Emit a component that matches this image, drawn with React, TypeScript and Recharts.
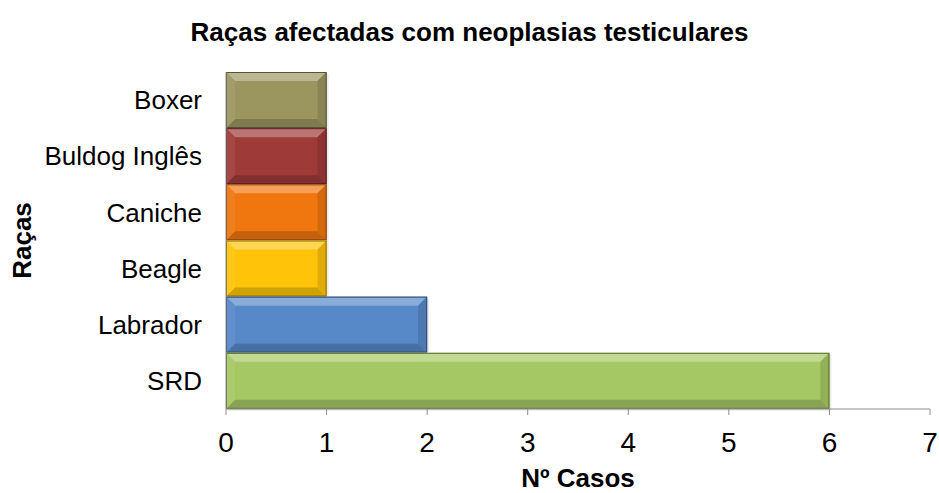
import React from 'react';
import { BarChart, Bar, XAxis, YAxis, Cell, Label } from 'recharts';

const breeds = ['Boxer', 'Buldog Inglês', 'Caniche', 'Beagle', 'Labrador', 'SRD'];
const cases = [1, 1, 1, 1, 2, 6];
const barColors = ['#9B9660', '#9E3B39', '#F0760F', '#FFC40A', '#5788C8', '#A6C864'];
const xTicks = [0, 1, 2, 3, 4, 5, 6, 7];

const title = 'Raças afectadas com neoplasias testiculares';
const xTitle = 'Nº Casos';
const yTitle = 'Raças';

const data = breeds.map((b, i) => ({ breed: b, value: cases[i], color: barColors[i] }));

const FONT = '"Liberation Sans", Arial, sans-serif';

function mix(hex: string, target: number, amt: number) {
  const n = parseInt(hex.slice(1), 16);
  const r = (n >> 16) & 255, g = (n >> 8) & 255, b = n & 255;
  const f = (c: number) => Math.round(c + (target - c) * amt);
  return `rgb(${f(r)},${f(g)},${f(b)})`;
}

const BevelBar = (props: any) => {
  const { x, y, width, height, payload } = props;
  const fill = payload.color;
  if (!width || !height) return null;
  const w = width, h = height;
  const b = Math.min(9, w / 2, h / 2);
  return (
    <g>
      <rect x={x + 2} y={y + 2} width={w} height={h} fill="rgba(0,0,0,0.08)" />
      <rect x={x} y={y} width={w} height={h} fill={fill} />
      <polygon points={`${x},${y} ${x + w},${y} ${x + w - b},${y + b} ${x + b},${y + b}`} fill={mix(fill, 255, 0.3)} />
      <polygon points={`${x},${y + h} ${x + w},${y + h} ${x + w - b},${y + h - b} ${x + b},${y + h - b}`} fill={mix(fill, 0, 0.18)} />
      <polygon points={`${x},${y} ${x + b},${y + b} ${x + b},${y + h - b} ${x},${y + h}`} fill={mix(fill, 255, 0.06)} />
      <polygon points={`${x + w},${y} ${x + w - b},${y + b} ${x + w - b},${y + h - b} ${x + w},${y + h}`} fill={mix(fill, 0, 0.12)} />
      <rect x={x + 0.5} y={y + 0.5} width={w - 1} height={h - 1} fill="none" stroke={mix(fill, 0, 0.45)} strokeWidth={1} />
    </g>
  );
};

export default function App() {
  return (
    <div style={{ position: 'absolute', left: 0, top: 0, width: 939, height: 493, background: '#fff' }}>
      <BarChart
        width={939}
        height={493}
        data={data}
        layout="vertical"
        margin={{ top: 72, right: 9, bottom: 0, left: 0 }}
        barCategoryGap={0}
      >
        <text x={469.5} y={41} textAnchor="middle" fontFamily={FONT} fontWeight="bold" fontSize={26} fill="#000">
          {title}
        </text>
        <XAxis
          type="number"
          domain={[0, 7]}
          ticks={xTicks}
          interval={0}
          height={84}
          stroke="#8c8c8c"
          tickSize={6}
          tickMargin={17}
          tick={{ fill: '#000', fontSize: 28, fontFamily: FONT }}
        >
          <Label
            content={() => (
              <text x={578} y={487} textAnchor="middle" fontFamily={FONT} fontWeight="bold" fontSize={26} fill="#000">
                {xTitle}
              </text>
            )}
          />
        </XAxis>
        <YAxis
          type="category"
          dataKey="breed"
          width={226}
          stroke="#8c8c8c"
          tickLine={false}
          tickSize={16}
          tickMargin={8}
          interval={0}
          tick={{ fill: '#000', fontSize: 26, fontFamily: FONT }}
        >
          <Label
            content={() => (
              <text x={31} y={240.5} transform="rotate(-90, 31, 240.5)" textAnchor="middle" fontFamily={FONT} fontWeight="bold" fontSize={26} fill="#000">
                {yTitle}
              </text>
            )}
          />
        </YAxis>
        <Bar dataKey="value" isAnimationActive={false} shape={<BevelBar />}>
          {data.map((d, i) => (
            <Cell key={i} fill={d.color} />
          ))}
        </Bar>
      </BarChart>
    </div>
  );
}
